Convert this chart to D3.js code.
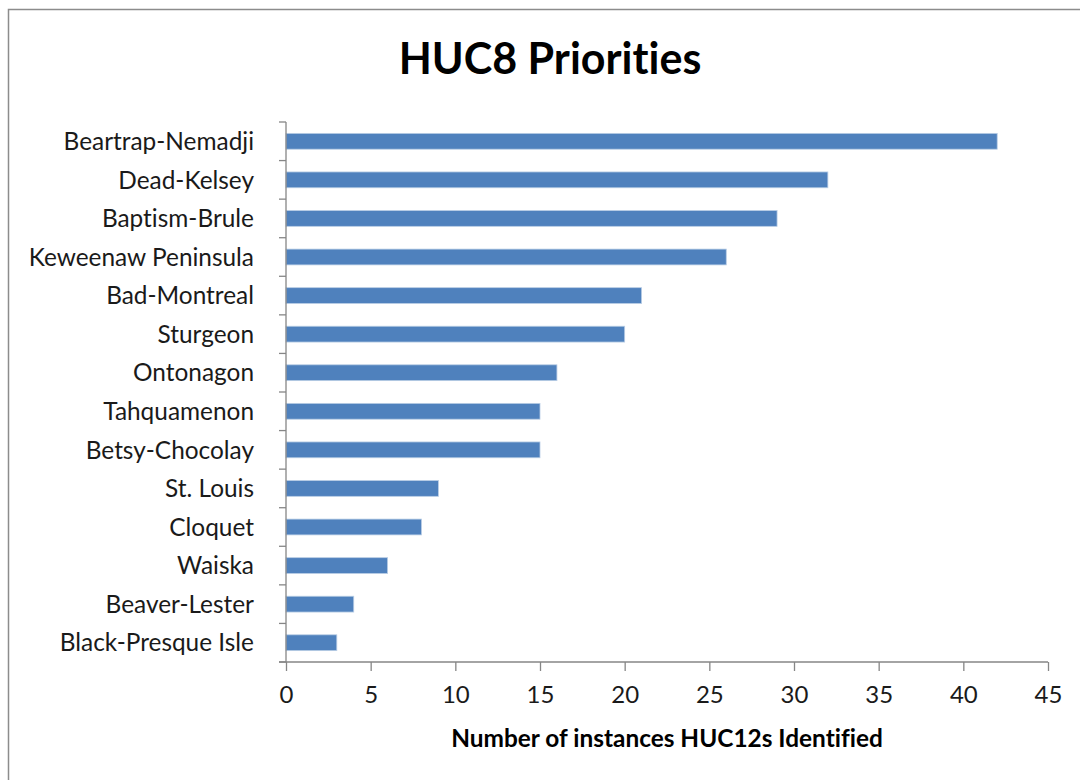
<!DOCTYPE html>
<html>
<head>
<meta charset="utf-8">
<script src="https://cdn.jsdelivr.net/npm/d3@7.9.0/dist/d3.min.js"></script>
<style>
  html, body { margin: 0; padding: 0; background: #fff; }
  svg { display: block; font-family: Lato, "Open Sans", sans-serif; font-variant-ligatures: none; }
</style>
</head>
<body>
<div id="chart"></div>
<script>
// Chart data
const basins = [
  'Beartrap-Nemadji', 'Dead-Kelsey', 'Baptism-Brule', 'Keweenaw Peninsula',
  'Bad-Montreal', 'Sturgeon', 'Ontonagon', 'Tahquamenon', 'Betsy-Chocolay',
  'St. Louis', 'Cloquet', 'Waiska', 'Beaver-Lester', 'Black-Presque Isle'
];
const counts = [42, 32, 29, 26, 21, 20, 16, 15, 15, 9, 8, 6, 4, 3];
const xTicks = [0, 5, 10, 15, 20, 25, 30, 35, 40, 45];

const chartTitle = 'HUC8 Priorities';
const xTitle = 'Number of instances HUC12s Identified';

const width = 1080;
const height = 780;
const margin = { top: 122, right: 32, bottom: 118, left: 286 };

const usableArea = {
  top: margin.top,
  right: width - margin.right,
  bottom: height - margin.bottom,
  left: margin.left,
};

const rows = basins.map((name, i) => ({ name, value: counts[i] }));

const svg = d3.select('#chart')
  .append('svg')
  .attr('width', width)
  .attr('height', height)
  .attr('viewBox', `0 0 ${width} ${height}`);

// outer chart border (runs off the right/bottom edge like the original)
svg.append('rect')
  .attr('x', 8.5)
  .attr('y', 9.5)
  .attr('width', width + 20)
  .attr('height', height + 20)
  .attr('fill', 'none')
  .attr('stroke', '#8c8c8c')
  .attr('stroke-width', 1.5);

const xScale = d3.scaleLinear()
  .domain([0, 45])
  .range([usableArea.left, usableArea.right]);

const yScale = d3.scaleBand()
  .domain(basins)
  .range([usableArea.top, usableArea.bottom])
  .paddingInner(0.59)
  .paddingOuter(0.295);

// bars
svg.append('g')
  .attr('class', 'bars')
  .selectAll('rect')
  .data(rows)
  .join('rect')
  .attr('x', xScale(0))
  .attr('y', (d) => yScale(d.name))
  .attr('width', (d) => xScale(d.value) - xScale(0))
  .attr('height', yScale.bandwidth())
  .attr('fill', '#4f81bd')
  .attr('stroke', '#b9cde5')
  .attr('stroke-width', 0.8);

// y axis: category ticks sit between bars (band boundaries)
const yAxisG = svg.append('g')
  .attr('transform', `translate(${usableArea.left}, 0)`);

yAxisG.append('line')
  .attr('y1', usableArea.top)
  .attr('y2', usableArea.bottom)
  .attr('stroke', '#868686')
  .attr('stroke-width', 1.3);

const step = yScale.step();
yAxisG.selectAll('line.tick')
  .data(d3.range(basins.length + 1))
  .join('line')
  .attr('class', 'tick')
  .attr('x1', -7)
  .attr('x2', 0)
  .attr('y1', (i) => usableArea.top + i * step)
  .attr('y2', (i) => usableArea.top + i * step)
  .attr('stroke', '#868686')
  .attr('stroke-width', 1.3);

yAxisG.selectAll('text')
  .data(basins)
  .join('text')
  .attr('x', -32)
  .attr('y', (d) => yScale(d) + yScale.bandwidth() / 2)
  .attr('dy', '0.36em')
  .attr('text-anchor', 'end')
  .attr('font-size', 24.4)
  .attr('fill', '#1a1a1a')
  .text((d) => d);

// x axis
const xAxis = d3.axisBottom(xScale)
  .tickValues(xTicks)
  .tickSize(9)
  .tickPadding(15)
  .tickFormat(d3.format('d'));

const xAxisG = svg.append('g')
  .attr('transform', `translate(0, ${usableArea.bottom})`)
  .call(xAxis);

xAxisG.select('.domain')
  .attr('d', `M${usableArea.left - 7},0H${usableArea.right}`)
  .attr('stroke', '#868686')
  .attr('stroke-width', 1.3);

xAxisG.selectAll('.tick line')
  .attr('stroke', '#868686')
  .attr('stroke-width', 1.3);

xAxisG.selectAll('.tick text')
  .attr('font-size', 24)
  .attr('font-family', 'Lato, "Open Sans", sans-serif')
  .attr('fill', '#1a1a1a');

// titles
svg.append('text')
  .attr('x', 550)
  .attr('y', 74)
  .attr('text-anchor', 'middle')
  .attr('font-size', 43)
  .attr('font-weight', 'bold')
  .attr('fill', '#000')
  .text(chartTitle);

svg.append('text')
  .attr('x', (usableArea.left + usableArea.right) / 2)
  .attr('y', 747)
  .attr('text-anchor', 'middle')
  .attr('font-size', 24.4)
  .attr('font-weight', 'bold')
  .attr('fill', '#000')
  .text(xTitle);
</script>
</body>
</html>
